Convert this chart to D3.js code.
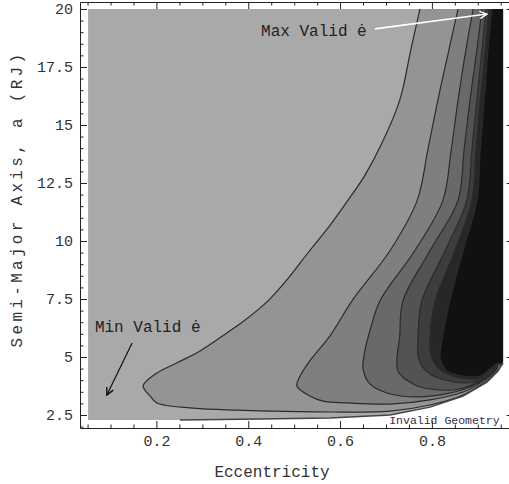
<!DOCTYPE html>
<html>
<head>
<meta charset="utf-8">
<script src="https://cdn.jsdelivr.net/npm/d3@7"></script>
<style>
  body { margin: 0; background: #fff; }
  text { font-family: "Liberation Mono", "Courier New", monospace; fill: #333; }
</style>
</head>
<body>
<svg id="chart" width="509" height="484"></svg>
<script>
'use strict'

// tick labels
const xTicks = [0.2, 0.4, 0.6, 0.8]
const yTicks = [2.5, 5, 7.5, 10, 12.5, 15, 17.5, 20]

// valid (e, a) region: left/right edges, top, and lower "invalid geometry" boundary
const eEdges = [0.051, 0.955]
const aTop = 20
const invalidBoundary = [[0.051, 2.28], [0.251, 2.28], [0.425, 2.33], [0.578, 2.37], [0.709, 2.50],
  [0.796, 2.84], [0.868, 3.32], [0.920, 3.92], [0.944, 4.40], [0.955, 4.75]]

// contour lines, outermost first, each [e, a] from top edge round the nose to the right
const contour1 = [[0.774, 20], [0.754, 18.23], [0.730, 16.07], [0.691, 14.21], [0.654, 12.83], [0.617, 11.75],
  [0.578, 10.67], [0.534, 9.59], [0.486, 8.37], [0.443, 7.42], [0.391, 6.56], [0.354, 6.04], [0.295, 5.26],
  [0.245, 4.75], [0.201, 4.31], [0.171, 3.75], [0.186, 3.32], [0.201, 3.02], [0.280, 2.80], [0.375, 2.71],
  [0.447, 2.67], [0.578, 2.63], [0.709, 2.67], [0.796, 2.93], [0.868, 3.36], [0.905, 3.79], [0.927, 4.10], [0.944, 4.44]]
const contour2 = [[0.857, 20], [0.837, 18.23], [0.813, 16.07], [0.791, 13.91], [0.768, 11.75], [0.709, 9.59],
  [0.626, 7.42], [0.578, 5.91], [0.534, 4.83], [0.513, 4.18], [0.506, 3.75], [0.534, 3.32], [0.563, 3.10],
  [0.615, 3.02], [0.709, 2.97], [0.796, 3.15], [0.868, 3.49], [0.905, 3.88], [0.927, 4.18], [0.944, 4.53]]
const contour3 = [[0.890, 20], [0.874, 18.23], [0.857, 16.07], [0.842, 13.91], [0.824, 11.75], [0.763, 9.59],
  [0.687, 7.42], [0.665, 6.13], [0.654, 5.26], [0.650, 4.49], [0.665, 3.84], [0.702, 3.45], [0.774, 3.28],
  [0.839, 3.45], [0.872, 3.62], [0.905, 3.92], [0.927, 4.23], [0.944, 4.57]]
const contour4 = [[0.909, 20], [0.898, 18.23], [0.883, 16.07], [0.870, 13.91], [0.857, 11.75], [0.796, 9.59],
  [0.737, 7.42], [0.730, 5.91], [0.726, 4.40], [0.759, 3.84], [0.796, 3.62], [0.861, 3.62], [0.905, 3.97],
  [0.927, 4.27], [0.944, 4.62]]
const contour5 = [[0.918, 20], [0.909, 18.23], [0.898, 16.07], [0.887, 13.91], [0.876, 11.75], [0.829, 9.59],
  [0.778, 7.42], [0.770, 5.91], [0.770, 5.05], [0.778, 4.62], [0.796, 4.27], [0.829, 4.01], [0.872, 3.88],
  [0.905, 4.01], [0.927, 4.31], [0.944, 4.66]]
const contour6 = [[0.924, 20], [0.916, 18.23], [0.905, 16.07], [0.896, 13.91], [0.887, 11.75], [0.850, 9.59],
  [0.807, 7.42], [0.796, 5.91], [0.798, 5.05], [0.811, 4.57], [0.839, 4.23], [0.883, 4.05], [0.905, 4.10],
  [0.927, 4.40], [0.944, 4.70]]
const contour7 = [[0.931, 20], [0.922, 18.23], [0.914, 16.07], [0.905, 13.91], [0.898, 11.75], [0.868, 9.59],
  [0.839, 7.42], [0.822, 5.70], [0.818, 4.96], [0.833, 4.40], [0.868, 4.18], [0.905, 4.18], [0.927, 4.49],
  [0.944, 4.75]]

const contours = [contour1, contour2, contour3, contour4, contour5, contour6, contour7]
const levelGrays = ['#a9a9a9', '#949494', '#7f7f7f', '#696969', '#535353', '#3d3d3d', '#272727', '#111111']

const svg = d3.select('#chart')
const x = d3.scaleLinear().domain([0.0335, 0.978]).range([80, 513.6])
const y = d3.scaleLinear().domain([1.94, 20.30]).range([428, 2])
const line = d3.line().x(d => x(d[0])).y(d => y(d[1]))
const smooth = d3.line().x(d => x(d[0])).y(d => y(d[1])).curve(d3.curveCatmullRom.alpha(0.5))

// region where the geometry is valid
const validRegion = [[eEdges[0], aTop], [eEdges[1], aTop]]
  .concat(invalidBoundary.slice().reverse())

svg.append('clipPath').attr('id', 'valid-clip')
  .append('path').attr('d', line(validRegion) + 'Z')

const plot = svg.append('g').attr('clip-path', 'url(#valid-clip)')

plot.append('path')
  .attr('d', line(validRegion) + 'Z')
  .attr('fill', levelGrays[0])

// each contour closes against the right and top edges
contours.forEach((c, i) => {
  const last = c[c.length - 1]
  const closing = [[eEdges[1] + 0.01, last[1]], [eEdges[1] + 0.01, aTop + 0.3], [c[0][0], aTop + 0.3]]
  plot.append('path')
    .attr('d', smooth(c) + closing.map(p => `L${x(p[0])},${y(p[1])}`).join('') + 'Z')
    .attr('fill', levelGrays[i + 1])
})

contours.forEach(c => {
  plot.append('path')
    .attr('d', smooth(c))
    .attr('fill', 'none')
    .attr('stroke', '#2b2b2b')
    .attr('stroke-width', 1.2)
})

// dark edge along the invalid boundary
svg.append('path')
  .attr('d', line(invalidBoundary.slice(1)))
  .attr('fill', 'none')
  .attr('stroke', '#444')
  .attr('stroke-width', 1.5)

// frame with inward ticks
const xMinor = d3.range(0.05, 0.97, 0.05).filter(v => Math.abs(v * 5 - Math.round(v * 5)) > 1e-6)
const yMinor = d3.range(2, 20.01, 0.5).filter(v => Math.abs(v / 2.5 - Math.round(v / 2.5)) > 1e-6)

function frameAxis (axisFn, scale, pos, major, minor, labels) {
  const g = svg.append('g').attr('transform', pos)
  g.call(axisFn(scale).tickValues(major).tickSizeInner(-7).tickSizeOuter(0).tickPadding(labels ? 7 : 0)
    .tickFormat(labels ? d3.format('') : ''))
  const gm = svg.append('g').attr('transform', pos)
  gm.call(axisFn(scale).tickValues(minor).tickSizeInner(-3.5).tickSizeOuter(0).tickFormat(''))
  gm.select('.domain').remove()
  svg.selectAll('.domain').attr('stroke', '#222')
  svg.selectAll('.tick line').attr('stroke', '#222')
  return g
}

const bottomAxis = frameAxis(d3.axisBottom, x, 'translate(0,428)', xTicks, xMinor, true)
bottomAxis.selectAll('text').attr('font-size', 15).attr('font-family', null)
frameAxis(d3.axisTop, x, 'translate(0,2)', xTicks, xMinor, false)
const leftAxis = frameAxis(d3.axisLeft, y, 'translate(80,0)', yTicks, yMinor, true)
leftAxis.selectAll('text').attr('font-size', 15).attr('font-family', null)
frameAxis(d3.axisRight, y, 'translate(513.6,0)', yTicks, yMinor, false)

// axis titles
svg.append('text')
  .attr('x', 272).attr('y', 477)
  .attr('text-anchor', 'middle')
  .attr('font-size', 16)
  .text('Eccentricity')

svg.append('text')
  .attr('transform', 'translate(17,199) rotate(-90)')
  .attr('dy', '0.32em')
  .attr('text-anchor', 'middle')
  .attr('font-size', 16)
  .attr('letter-spacing', 3.3)
  .text('Semi-Major Axis, a (RJ)')

// annotations
const defs = svg.append('defs')
;[['head-white', '#fff'], ['head-black', '#111']].forEach(([id, col]) => {
  defs.append('marker').attr('id', id)
    .attr('markerUnits', 'userSpaceOnUse')
    .attr('viewBox', '0 0 10 10').attr('refX', 9).attr('refY', 5)
    .attr('markerWidth', 9).attr('markerHeight', 9)
    .attr('orient', 'auto')
    .append('path').attr('d', 'M1,1L9,5L1,9')
    .attr('fill', 'none').attr('stroke', col).attr('stroke-width', 1.6)
})

svg.append('path')
  .attr('d', line([[0.676, 19.14], [0.920, 19.78]]))
  .attr('stroke', '#fff').attr('stroke-width', 1.6)
  .attr('marker-end', 'url(#head-white)')

svg.append('path')
  .attr('d', line([[0.147, 5.60], [0.092, 3.36]]))
  .attr('stroke', '#111').attr('stroke-width', 1.2)
  .attr('marker-end', 'url(#head-black)')

svg.append('text')
  .attr('x', x(0.428)).attr('y', y(18.84))
  .attr('font-size', 16).style('fill', '#222')
  .text('Max Valid ė')

svg.append('text')
  .attr('x', x(0.066)).attr('y', y(6.08))
  .attr('font-size', 16).style('fill', '#222')
  .text('Min Valid ė')

svg.append('text')
  .attr('x', x(0.707)).attr('y', y(2.11))
  .attr('font-size', 11.5).style('fill', '#3a2a44')
  .text('Invalid Geometry')
</script>
</body>
</html>
